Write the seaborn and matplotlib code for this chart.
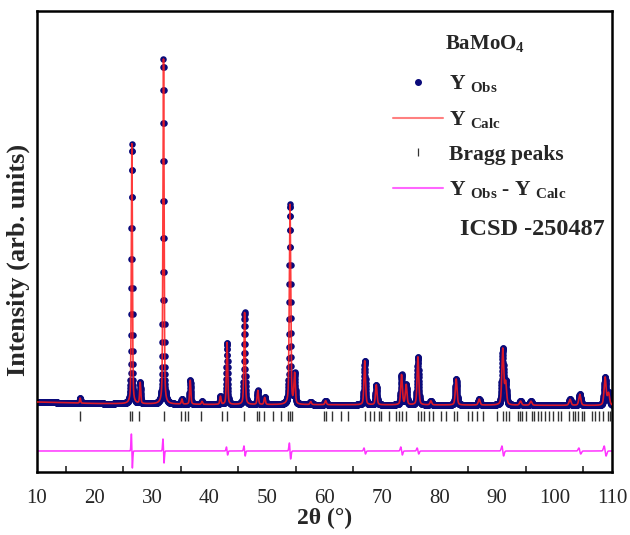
import numpy as np
import matplotlib
matplotlib.use('Agg')
import matplotlib.pyplot as plt
from matplotlib.lines import Line2D
import seaborn as sns

# peak positions (2theta) and heights
peak_pos = [17.5, 26.5, 27.95, 32.0, 35.2, 36.65, 38.7, 41.9, 43.05, 46.1, 48.4, 49.6,
            54.0, 54.8, 57.6, 60.2, 67.0, 69.0, 73.4, 74.2, 76.25, 78.5, 82.9, 86.9,
            91.0, 91.5, 94.1, 95.9, 102.7, 104.4, 108.8, 109.4]
peak_height = [5, 260, 21, 345, 5, 24, 3, 8, 62, 92, 14, 7,
               200, 30, 3, 4, 44, 20, 30, 20, 48, 4, 26, 6,
               56, 22, 4, 4, 6, 11, 28, 12]

# background level
bg_pos = [10, 20, 40, 80, 110]
bg_level = [3, 1.5, 0.5, 0, -0.5]

# Bragg reflections
bragg_pos = [17.4, 26.2, 26.6, 27.8, 32.1, 35.1, 35.7, 36.2, 38.6, 42.2, 43.05, 45.95,
             48.3, 48.6, 49.4, 51.05, 52.45, 53.6, 54.0, 54.4, 59.9, 60.2, 61.3, 62.8,
             64.1, 67.1, 67.9, 68.6, 69.5, 69.9, 71.2, 72.4, 73.0, 73.5, 74.1, 76.2,
             76.7, 77.3, 78.2, 78.8, 80.2, 81.1, 82.5, 83.0, 84.9, 85.7, 86.6, 87.5,
             90.0, 91.0, 91.5, 92.1, 93.6, 94.0, 94.4, 95.0, 96.0, 96.5, 97.05, 97.6,
             98.3, 99.1, 99.8, 100.6, 101.1, 102.6, 103.2, 103.6, 104.1, 104.7, 105.2,
             106.5, 107.0, 107.8, 108.4, 109.3, 109.7]

# misfit spikes in the difference curve
diff_pos = [26.5, 32.0, 43.05, 46.1, 54.0, 67.0, 73.4, 76.25, 91.0, 104.4, 108.8]
diff_amp = [17, 12, 4, 5, 8, 3, 4, 3, 5, 3, 5]

bragg_level = -11
diff_level = -46

sns.set_style('white')
plt.rcParams['font.family'] = ['Liberation Serif', 'DejaVu Serif']
plt.rcParams['mathtext.fontset'] = 'custom'
plt.rcParams['mathtext.rm'] = 'Liberation Serif:bold'
plt.rcParams['mathtext.bf'] = 'Liberation Serif:bold'
plt.rcParams['mathtext.it'] = 'Liberation Serif:bold'


def width(p):
    return 0.09 + 0.0012 * (p - 10)


def profile(x):
    y = np.interp(x, bg_pos, bg_level)
    for p, h in zip(peak_pos, peak_height):
        u = (x - p) / width(p)
        y = y + h * (0.6 * np.exp(-np.log(2) * u ** 2) + 0.4 / (1 + u ** 2))
    return y


def difference(x):
    y = np.full_like(x, diff_level, dtype=float)
    for p, a in zip(diff_pos, diff_amp):
        u = (x - p) / (0.8 * width(p))
        y = y + a * (-u) * np.exp(0.5 - 0.5 * u ** 2)
    return y


tt_obs = np.arange(10, 110.001, 0.02)
tt_calc = np.arange(10, 110.001, 0.005)

fig = plt.figure(figsize=(6.3, 5.35), dpi=100)
ax = fig.add_axes([37 / 630, 1 - 472 / 535, 575 / 630, 461 / 535])

sns.scatterplot(x=tt_obs, y=profile(tt_obs), color='#0a0a7a', s=22, linewidth=0, ax=ax, zorder=2)
sns.lineplot(x=tt_calc, y=profile(tt_calc), color='#ff1a1a', lw=1.2, alpha=0.85, ax=ax, zorder=3)
ax.plot(bragg_pos, [bragg_level] * len(bragg_pos), ls='none', marker='|', ms=7, mew=1.0, color='#333333')
sns.lineplot(x=tt_calc, y=difference(tt_calc), color='#ff33ff', lw=1.1, ax=ax)

ax.set_xlim(10, 110)
ax.set_ylim(-67, 394)
ax.set_xticks(np.arange(10, 111, 10))
ax.set_xticks(np.arange(15, 110, 10), minor=True)
ax.set_yticks([])
ax.tick_params(axis='x', which='major', direction='in', length=6, width=1.2, labelsize=15, pad=12)
ax.tick_params(axis='x', which='minor', direction='in', length=4, width=1.2, bottom=True)
for s in ax.spines.values():
    s.set_linewidth(1.8)
    s.set_color('black')

ax.set_xlabel('2θ (°)', fontsize=17, fontweight='bold', labelpad=0)
ax.set_ylabel('Intensity (arb. units)', fontsize=19, fontweight='bold')
ax.yaxis.set_label_coords(-0.012, 0.46)

handles = [
    Line2D([], [], ls='none', marker='o', ms=4, color='#0a0a7a'),
    Line2D([], [], color='#ff8080', lw=1.5),
    Line2D([], [], ls='none', marker='|', ms=6, mew=0.9, color='#333333'),
    Line2D([], [], color='#ff66ff', lw=1.5),
]
labels = [r'Y $_{\mathbf{Obs}}$', r'Y $_{\mathbf{Calc}}$', 'Bragg peaks',
          r'Y $_{\mathbf{Obs}}$ - Y $_{\mathbf{Calc}}$']
leg = ax.legend(handles, labels, loc='upper left', bbox_to_anchor=(0.601, 0.888),
                frameon=False, prop={'size': 15.5, 'weight': 'bold'},
                handlelength=2.3, handletextpad=0.3, labelspacing=0.68, borderpad=0)
ax.text(0.71, 0.93, r'BaMoO$_4$', transform=ax.transAxes, fontsize=15,
        fontweight='bold', va='center', ha='left')
ax.text(0.736, 0.525, 'ICSD -250487', transform=ax.transAxes, fontsize=17.5,
        fontweight='bold', va='center', ha='left')

fig.savefig('out.png', dpi=100)
